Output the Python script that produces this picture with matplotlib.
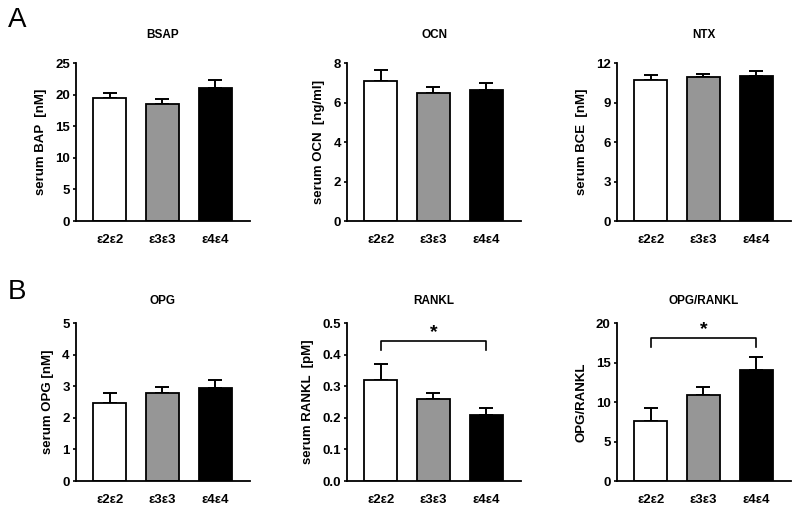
import matplotlib
matplotlib.use('Agg')
import matplotlib.pyplot as plt

plt.rcParams['font.family'] = ['Liberation Sans', 'DejaVu Sans']

groups = ['ε2ε2', 'ε3ε3', 'ε4ε4']
bar_colors = ['white', '#969696', 'black']

titles = ['BSAP', 'OCN', 'NTX', 'OPG', 'RANKL', 'OPG/RANKL']
ylabels = ['serum BAP  [nM]', 'serum OCN  [ng/ml]', 'serum BCE  [nM]',
           'serum OPG [nM]', 'serum RANKL  [pM]', 'OPG/RANKL']

bsap = [19.4, 18.5, 21.0]
bsap_err = [0.8, 0.8, 1.3]
ocn = [7.09, 6.47, 6.63]
ocn_err = [0.55, 0.3, 0.34]
ntx = [10.71, 10.94, 11.04]
ntx_err = [0.4, 0.22, 0.35]
opg = [2.46, 2.79, 2.94]
opg_err = [0.32, 0.19, 0.25]
rankl = [0.321, 0.261, 0.21]
rankl_err = [0.048, 0.019, 0.02]
ratio = [7.6, 10.84, 14.08]
ratio_err = [1.6, 1.1, 1.67]

values = [bsap, ocn, ntx, opg, rankl, ratio]
errors = [bsap_err, ocn_err, ntx_err, opg_err, rankl_err, ratio_err]
yticks = [[0, 5, 10, 15, 20, 25], [0, 2, 4, 6, 8], [0, 3, 6, 9, 12],
          [0, 1, 2, 3, 4, 5], [0.0, 0.1, 0.2, 0.3, 0.4, 0.5], [0, 5, 10, 15, 20]]
ytick_fmt = [None, None, None, None, '{:.1f}', None]

# significance brackets: panel index -> (bracket height, drop)
brackets = {4: (0.444, 0.028), 5: (18.06, 1.06)}

fig = plt.figure(figsize=(8, 5.11), dpi=100)

lefts = [76, 347, 617]
rows = [(511 - 221) / 511, (511 - 481) / 511]
h = 158 / 511
w = 174 / 800

x = [0, 1, 2]
for i in range(6):
    r, c = divmod(i, 3)
    ax = fig.add_axes([lefts[c] / 800, rows[r], w, h])
    ax.bar(x, values[i], width=0.63, color=bar_colors, edgecolor='black',
           linewidth=1.3, zorder=2)
    ax.errorbar(x, values[i], yerr=[[0, 0, 0], errors[i]], fmt='none',
                ecolor='black', elinewidth=1.4, capsize=5, capthick=1.4, zorder=1)
    ax.set_xlim(-0.64, 2.66)
    ax.set_ylim(yticks[i][0], yticks[i][-1])
    ax.set_yticks(yticks[i])
    if ytick_fmt[i]:
        ax.set_yticklabels([ytick_fmt[i].format(t) for t in yticks[i]])
    ax.set_xticks(x)
    ax.set_xticklabels(groups)
    ax.tick_params(axis='x', length=0, pad=9)
    ax.tick_params(axis='y', length=2, width=1.2, pad=2.5)
    for lab in ax.get_xticklabels() + ax.get_yticklabels():
        lab.set_fontsize(9.5)
        lab.set_fontweight('bold')
    for s in ['top', 'right']:
        ax.spines[s].set_visible(False)
    for s in ['left', 'bottom']:
        ax.spines[s].set_linewidth(1.3)
    ax.set_ylabel(ylabels[i], fontsize=9.5, fontweight='bold', labelpad=6)
    ty = 1 + (28 if r == 0 else 22) / 158
    ax.text(0.5, ty, titles[i], transform=ax.transAxes, ha='center', va='center',
            fontsize=8.5, fontweight='bold')
    if i in brackets:
        by, drop = brackets[i]
        ax.plot([0, 0, 2, 2], [by - drop, by, by, by - drop], color='black',
                linewidth=1.2, clip_on=False)
        ax.text(1, by, '*', ha='center', va='bottom', fontsize=14,
                fontweight='bold')

fig.text(8 / 800, 1 - 20 / 511, 'A', fontsize=20, va='center', ha='left')
fig.text(8 / 800, 1 - 292 / 511, 'B', fontsize=20, va='center', ha='left')

fig.savefig('out.png', dpi=100)
